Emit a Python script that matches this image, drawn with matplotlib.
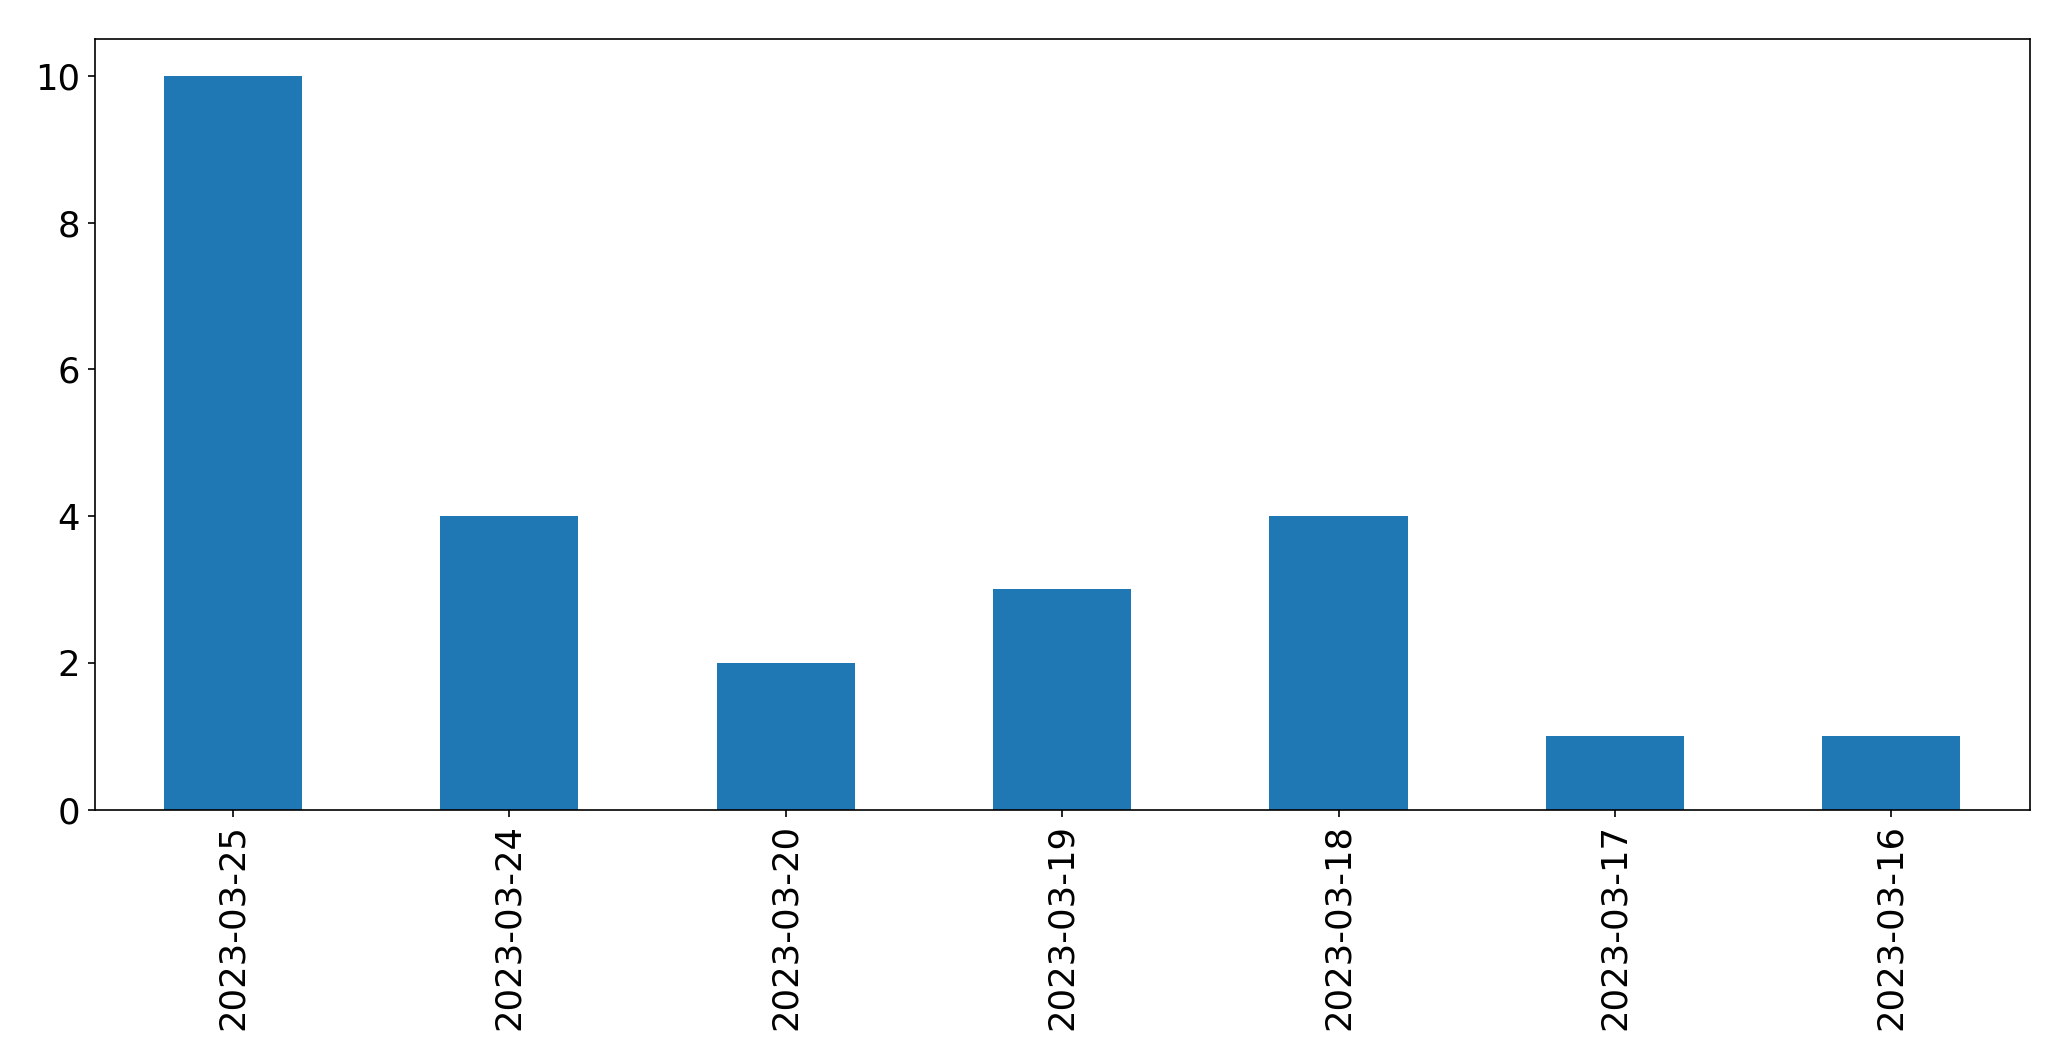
import pandas as pd
import matplotlib
matplotlib.use("Agg")
import matplotlib.pyplot as plt

# Counts per date (as shown, newest first)
dates = ["2023-03-25", "2023-03-24", "2023-03-20", "2023-03-19",
         "2023-03-18", "2023-03-17", "2023-03-16"]
counts = [10, 4, 2, 3, 4, 1, 1]

series = pd.Series(counts, index=dates)

fig = plt.figure(figsize=(2071 / 150, 1061 / 150), dpi=150)
ax = fig.add_subplot(111)
series.plot(kind="bar", ax=ax, color="#1f77b4", fontsize=17)
ax.set_xlabel("")

fig.subplots_adjust(left=0.0457, right=0.980, top=0.963, bottom=0.237)
fig.savefig("out.png", dpi=150)
